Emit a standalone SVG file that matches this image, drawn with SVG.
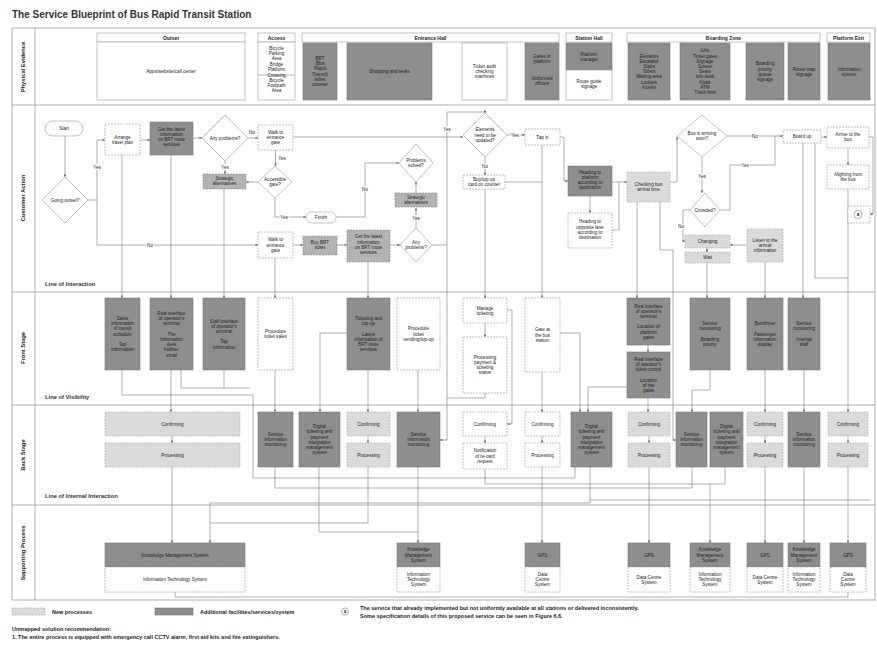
<svg xmlns="http://www.w3.org/2000/svg" width="877" height="645" viewBox="0 0 877 645">
<defs>
<marker id="ah" viewBox="0 0 6 6" refX="5.5" refY="3" markerWidth="4" markerHeight="4" orient="auto"><path d="M0,0 L6,3 L0,6 z" fill="#777"/></marker>
<style>
text{font-family:"Liberation Sans",Arial,sans-serif;fill:#222}
.t{font-size:4.6px;text-anchor:middle}
.h{font-size:5px;text-anchor:middle;font-weight:bold}
.lane{font-size:5.8px;text-anchor:middle;font-weight:bold}
.line-lbl{font-size:5.8px;font-weight:bold;fill:#333}
.lb{font-size:4.6px;text-anchor:middle;paint-order:stroke;stroke:#fff;stroke-width:2px}
.dk{fill:#8e8e8e;stroke:#777;stroke-width:0.6}
.md{fill:#b3b3b3;stroke:#888;stroke-width:0.6;stroke-dasharray:2 1}
.lt{fill:#dadada;stroke:#aaa;stroke-width:0.6;stroke-dasharray:2 1}
.wh{fill:#fff;stroke:#999;stroke-width:0.6;stroke-dasharray:2 1}
.ws{fill:#fff;stroke:#999;stroke-width:0.6}
.grid{stroke:#999;stroke-width:0.8;fill:none}
.c{stroke:#8a8a8a;stroke-width:0.7;fill:none}
.a{stroke:#8a8a8a;stroke-width:0.7;fill:none;marker-end:url(#ah)}
</style>
</defs>
<rect width="877" height="645" fill="#fff"/>
<text x="12" y="18" style="font-size:10px;font-weight:bold;fill:#333">The Service Blueprint of Bus Rapid Transit Station</text>

<g id="lanes">
<rect class="grid" x="12" y="28" width="863" height="572"/>
<line class="grid" x1="35" y1="28" x2="35" y2="600"/>
<line class="grid" x1="12" y1="105" x2="875" y2="105"/>
<line class="grid" x1="12" y1="292" x2="875" y2="292"/>
<line class="grid" x1="12" y1="405" x2="875" y2="405"/>
<line class="grid" x1="12" y1="505" x2="875" y2="505"/>
<text class="lane" transform="translate(25,67) rotate(-90)">Physical Evidence</text>
<text class="lane" transform="translate(25,198) rotate(-90)">Customer Action</text>
<text class="lane" transform="translate(25,348) rotate(-90)">Front Stage</text>
<text class="lane" transform="translate(25,455) rotate(-90)">Back Stage</text>
<text class="lane" transform="translate(25,553) rotate(-90)">Supporting Process</text>
<text class="line-lbl" x="45" y="286">Line of Interaction</text>
<text class="line-lbl" x="45" y="399">Line of Visibility</text>
<text class="line-lbl" x="45" y="498">Line of Internal Interaction</text>
</g>

<!-- Physical evidence -->
<g id="pe-outset">
<rect class="ws" x="97" y="33" width="148" height="9"/><text class="h" x="171" y="39.5">Outset</text>
<rect class="ws" x="97" y="42" width="148" height="58"/><text class="t" x="171" y="72.6">Apps/website/call center</text>
</g>
<g id="pe-access">
<rect class="ws" x="258" y="33" width="37" height="9"/><text class="h" x="276.5" y="39.5">Access</text>
<rect class="ws" x="258" y="42" width="37" height="58"/><line class="c" x1="258" y1="75" x2="295" y2="75"/>
<text class="t" x="276.5" y="50"><tspan x="276.5">Bicycle</tspan><tspan x="276.5" dy="5.2">Parking</tspan><tspan x="276.5" dy="5.2">Area</tspan><tspan x="276.5" dy="5.2">Bridge</tspan><tspan x="276.5" dy="5.2">Platform</tspan><tspan x="276.5" dy="6">Crossing</tspan><tspan x="276.5" dy="5.2">Bicycle</tspan><tspan x="276.5" dy="5.2">Footpath</tspan><tspan x="276.5" dy="5.2">Area</tspan></text>
</g>
<g id="pe-entrance">
<rect class="ws" x="302" y="33" width="257" height="9"/><text class="h" x="430.5" y="39.5">Entrance Hall</text>
<rect class="dk" x="303" y="43" width="34" height="57"/>
<text class="t" x="320" y="60"><tspan x="320">BRT</tspan><tspan x="320" dy="5.2">(Bus</tspan><tspan x="320" dy="5.2">Rapid</tspan><tspan x="320" dy="5.2">Transit)</tspan><tspan x="320" dy="5.2">ticket</tspan><tspan x="320" dy="5.2">counter</tspan></text>
<rect class="dk" x="347" y="43" width="85" height="57"/><text class="t" x="389.5" y="73">Shopping and seats</text>
<rect class="ws" x="462" y="43" width="45" height="57"/>
<text class="t" x="484.5" y="67.9"><tspan x="484.5">Ticket audit</tspan><tspan x="484.5" dy="5.2">checking</tspan><tspan x="484.5" dy="5.2">machines</tspan></text>
<rect class="dk" x="525" y="43" width="34" height="57"/>
<text class="t" x="542" y="58"><tspan x="542">Gates to</tspan><tspan x="542" dy="5.2">platform</tspan><tspan x="542" dy="17">Uniformed</tspan><tspan x="542" dy="5.2">officers</tspan></text>
</g>
<g id="pe-station">
<rect class="ws" x="566" y="33" width="46" height="9"/><text class="h" x="589" y="39.5">Station Hall</text>
<rect class="dk" x="566" y="43" width="46" height="27"/>
<text class="t" x="589" y="55.5"><tspan x="589">Platform</tspan><tspan x="589" dy="5.2">manager</tspan></text>
<rect class="ws" x="566" y="70" width="46" height="30"/>
<text class="t" x="589" y="83"><tspan x="589">Route guide</tspan><tspan x="589" dy="5.2">signage</tspan></text>
</g>
<g id="pe-boarding">
<rect class="ws" x="627" y="33" width="193" height="9"/><text class="h" x="723.5" y="39.5">Boarding Zone</text>
<rect class="dk" x="628" y="43" width="42" height="57"/>
<text class="t" x="649" y="57.5"><tspan x="649">Elevators</tspan><tspan x="649" dy="5.2">Escalator</tspan><tspan x="649" dy="5.2">Stairs</tspan><tspan x="649" dy="5.2">Toilets</tspan><tspan x="649" dy="5.2">Waiting area</tspan><tspan x="649" dy="5.2">Lockers</tspan><tspan x="649" dy="5.2">Kiosks</tspan></text>
<rect class="dk" x="680" y="43" width="50" height="57"/>
<text class="t" x="705" y="52.3"><tspan x="705">Lifts</tspan><tspan x="705" dy="5.2">Ticket gates</tspan><tspan x="705" dy="5.2">Signage</tspan><tspan x="705" dy="5.2">Screen</tspan><tspan x="705" dy="5.2">Seats</tspan><tspan x="705" dy="5.2">Info desk</tspan><tspan x="705" dy="5.2">Kiosk</tspan><tspan x="705" dy="5.2">ATM</tspan><tspan x="705" dy="5.2">Trash bins</tspan></text>
<rect class="dk" x="746" y="43" width="38" height="57"/>
<text class="t" x="765" y="65.3"><tspan x="765">Boarding</tspan><tspan x="765" dy="5.2">priority</tspan><tspan x="765" dy="5.2">queue</tspan><tspan x="765" dy="5.2">signage</tspan></text>
<rect class="dk" x="788" y="43" width="32" height="57"/>
<text class="t" x="804" y="70.5"><tspan x="804">Route map</tspan><tspan x="804" dy="5.2">signage</tspan></text>
</g>
<g id="pe-exit">
<rect class="ws" x="827" y="33" width="43" height="9"/><text class="h" x="848.5" y="39.5">Platform Exit</text>
<rect class="dk" x="828" y="43" width="42" height="57"/>
<text class="t" x="849" y="70.5"><tspan x="849">Information</tspan><tspan x="849" dy="5.2">system</tspan></text>
</g>

<!-- Connectors -->
<g id="connectors">
<path class="a" d="M65,136 V177"/>
<path class="a" d="M88,200 H97 V140 H105"/>
<path class="a" d="M97,200 V245 H258"/>
<path class="a" d="M140,140 H150"/>
<path class="a" d="M193,138 H202"/>
<path class="a" d="M248,138 H258"/>
<path class="a" d="M225,161 V174"/>
<path class="a" d="M275.5,150 V166"/>
<path class="a" d="M258,182 H246"/>
<path class="a" d="M275,198 V217 H306"/>
<path class="a" d="M336,217 H365 V163 H399"/>
<path class="a" d="M416,193 V182"/>
<path class="a" d="M416,228 V208"/>
<path class="a" d="M293,245 H303"/>
<path class="a" d="M337,245 H347"/>
<path class="a" d="M390,245 H400"/>
<path class="a" d="M432,245 H447 V112 H485 V113"/>
<path class="a" d="M293,137 H463"/>
<path class="a" d="M507,135 H525"/>
<path class="a" d="M485,157 V175"/>
<path class="c" d="M505,182 H542"/>
<path class="a" d="M542,145 V298"/>
<path class="a" d="M560,137 H564 V181 H568"/>
<path class="a" d="M590,196 V213"/>
<path class="a" d="M612,182 H627"/>
<path class="c" d="M612,230 H619 V182"/>
<path class="a" d="M670,182 H677 V137"/>
<path class="a" d="M702,157 V193"/>
<path class="a" d="M727,136 H783"/>
<path class="c" d="M720,210 H730 V165 H775 V136"/>
<path class="a" d="M690,210 H683 V241 H685"/>
<path class="a" d="M707,248 V252"/>
<path class="a" d="M747,245 H730"/>
<path class="a" d="M821,137 H827"/>
<path class="a" d="M848,148 V165"/>
<path class="c" d="M815,143 V278 H848"/>
<path class="a" d="M848,189 V412"/>
<path class="a" d="M869,137 H873 V214 H870"/>
<!-- customer to front -->
<path class="a" d="M122,155 V298"/>
<path class="a" d="M171,155 V298"/>
<path class="a" d="M224,189 V298"/>
<path class="a" d="M275,258 V298"/>
<path class="a" d="M368,262 V298"/>
<path class="a" d="M485,189 V298"/>
<path class="a" d="M485,323 V337"/>
<path class="a" d="M507,310 H512 V424 H507"/>
<path class="a" d="M485,393 V398 H447 V440 H440"/>
<path class="c" d="M447,245 V398"/>
<path class="a" d="M637,202 V298"/>
<path class="a" d="M660,202 V250 H673 V440 H676"/>
<path class="a" d="M627,387 H588 V412"/>
<path class="a" d="M707,263 V298"/>
<path class="a" d="M765,262 V298"/>
<path class="a" d="M803,143 V298"/>
<!-- front to back -->
<path class="c" d="M122,370 V395 H253 V478 H575 V467"/>
<path class="a" d="M171,370 V412"/>
<path class="c" d="M181,370 V388 H250"/>
<path class="c" d="M224,370 V388"/>
<path class="a" d="M275,370 V412"/>
<path class="a" d="M347,333 H320 V412"/>
<path class="a" d="M368,370 V412"/>
<path class="a" d="M418,370 V412"/>
<path class="a" d="M542,372 V412"/>
<path class="a" d="M560,333 H580 V412"/>
<path class="a" d="M648,345 V352"/>
<path class="a" d="M648,398 V412"/>
<path class="a" d="M710,370 V390 H692 V412"/>
<path class="a" d="M765,370 V412"/>
<path class="a" d="M804,370 V412"/>
<!-- back internal -->
<path class="a" d="M172,436 V443"/>
<path class="a" d="M368,436 V443"/>
<path class="a" d="M485,436 V443"/>
<path class="a" d="M542,436 V443"/>
<path class="a" d="M649,436 V443"/>
<path class="a" d="M765,436 V443"/>
<path class="a" d="M848,436 V443"/>
<!-- back to support -->
<path class="a" d="M172,467 V543"/>
<path class="a" d="M210,503 V543"/>
<path class="c" d="M210,503 H590 V467"/>
<path class="c" d="M368,467 V523 H210"/>
<path class="c" d="M319,467 V532 H418"/>
<path class="a" d="M418,467 V543"/>
<path class="c" d="M275,467 V488 H692 V467"/>
<path class="c" d="M485,469 V484 H725 V467"/>
<path class="a" d="M542,467 V543"/>
<path class="a" d="M649,467 V543"/>
<path class="a" d="M710,484 V543"/>
<path class="a" d="M765,467 V543"/>
<path class="a" d="M804,467 V543"/>
<path class="a" d="M848,467 V543"/>
<path class="c" d="M590,500 H870"/>
<path class="c" d="M175,592 V597 H848 V592"/>
<!-- labels -->
<text class="lb" x="97" y="169">Yes</text>
<text class="lb" x="150" y="247">No</text>
<text class="lb" x="252" y="134">No</text>
<text class="lb" x="225" y="169">Yes</text>
<text class="lb" x="282" y="160">Yes</text>
<text class="lb" x="284" y="219">Yes</text>
<text class="lb" x="365" y="191">No</text>
<text class="lb" x="416" y="220">Yes</text>
<text class="lb" x="447" y="131">Yes</text>
<text class="lb" x="515" y="137">Yes</text>
<text class="lb" x="485" y="168">No</text>
<text class="lb" x="702" y="178">Yes</text>
<text class="lb" x="755" y="138">No</text>
<text class="lb" x="745" y="167">Yes</text>
<text class="lb" x="681" y="228">No</text>
</g>

<!-- Customer action nodes -->
<g id="n-start"><rect class="ws" x="45" y="121" width="38" height="15" rx="7.5"/><text class="t" x="64" y="130.3">Start</text></g>
<g id="n-outset"><polygon class="ws" points="65,177 88,200 65,223 42,200"/><text class="t" x="65" y="201.6">Going outset?</text></g>
<g id="n-plan"><rect class="wh" x="105" y="124" width="35" height="31"/><text class="t" x="122.5" y="138.5"><tspan x="122.5">Arrange</tspan><tspan x="122.5" dy="5.2">travel plan</tspan></text></g>
<g id="n-info1"><rect class="dk" x="150" y="122" width="43" height="33"/><text class="t" x="171.5" y="130.7"><tspan x="171.5">Get the latest</tspan><tspan x="171.5" dy="5.2">information</tspan><tspan x="171.5" dy="5.2">on BRT route</tspan><tspan x="171.5" dy="5.2">services</tspan></text></g>
<g id="n-prob1"><polygon class="ws" points="225,115 248,138 225,161 202,138"/><text class="t" x="225" y="139.6">Any problems?</text></g>
<g id="n-walk1"><rect class="wh" x="258" y="125" width="35" height="25"/><text class="t" x="275.5" y="133.9"><tspan x="275.5">Walk to</tspan><tspan x="275.5" dy="5.2">entrance</tspan><tspan x="275.5" dy="5.2">gate</tspan></text></g>
<g id="n-alt1"><rect class="md" x="203" y="174" width="43" height="15"/><text class="t" x="224.5" y="180.2"><tspan x="224.5">Strategic</tspan><tspan x="224.5" dy="5.2">alternatives</tspan></text></g>
<g id="n-access"><polygon class="ws" points="275,166 292,182 275,198 258,182"/><text class="t" x="275" y="181"><tspan x="275">Accessible</tspan><tspan x="275" dy="5.2">gate?</tspan></text></g>
<g id="n-finish"><rect class="ws" x="306" y="212" width="30" height="11" rx="5.5"/><text class="t" x="321" y="219.2">Finish</text></g>
<g id="n-walk2"><rect class="wh" x="258" y="232" width="35" height="26"/><text class="t" x="275.5" y="241.4"><tspan x="275.5">Walk to</tspan><tspan x="275.5" dy="5.2">entrance</tspan><tspan x="275.5" dy="5.2">gate</tspan></text></g>
<g id="n-ticket"><rect class="md" x="303" y="236" width="34" height="19"/><text class="t" x="320" y="244"><tspan x="320">Buy BRT</tspan><tspan x="320" dy="5.2">ticket</tspan></text></g>
<g id="n-info2"><rect class="md" x="347" y="230" width="43" height="32"/><text class="t" x="368.5" y="238.3"><tspan x="368.5">Get the latest</tspan><tspan x="368.5" dy="5.2">information</tspan><tspan x="368.5" dy="5.2">on BRT route</tspan><tspan x="368.5" dy="5.2">services</tspan></text></g>
<g id="n-prob2"><polygon class="ws" points="416,228 432,245 416,262 400,245"/><text class="t" x="416" y="244"><tspan x="416">Any</tspan><tspan x="416" dy="5.2">problems?</tspan></text></g>
<g id="n-alt2"><rect class="md" x="395" y="193" width="42" height="14"/><text class="t" x="416" y="198.7"><tspan x="416">Strategic</tspan><tspan x="416" dy="5.2">alternatives</tspan></text></g>
<g id="n-solved"><polygon class="ws" points="416,144 433,163 416,182 399,163"/><text class="t" x="416" y="162"><tspan x="416">Problems</tspan><tspan x="416" dy="5.2">solved?</tspan></text></g>
<g id="n-update"><polygon class="ws" points="485,113 507,135 485,157 463,135"/><text class="t" x="485" y="131.4"><tspan x="485">Elements</tspan><tspan x="485" dy="5.2">need to be</tspan><tspan x="485" dy="5.2">updated?</tspan></text></g>
<g id="n-tapin"><rect class="wh" x="525" y="129" width="35" height="16"/><text class="t" x="542.5" y="138.6">Tap in</text></g>
<g id="n-topup"><rect class="wh" x="463" y="175" width="42" height="14"/><text class="t" x="484" y="180.7"><tspan x="484">Buy/top up</tspan><tspan x="484" dy="5.2">card on counter</tspan></text></g>
<g id="n-platform"><rect class="dk" x="568" y="166" width="44" height="30"/><text class="t" x="590" y="173.8"><tspan x="590">Heading to</tspan><tspan x="590" dy="5.2">platform</tspan><tspan x="590" dy="5.2">according to</tspan><tspan x="590" dy="5.2">destination</tspan></text></g>
<g id="n-opposite"><rect class="wh" x="568" y="213" width="44" height="35"/><text class="t" x="590" y="223.3"><tspan x="590">Heading to</tspan><tspan x="590" dy="5.2">opposite lane</tspan><tspan x="590" dy="5.2">according to</tspan><tspan x="590" dy="5.2">destination</tspan></text></g>
<g id="n-check"><rect class="lt" x="627" y="172" width="43" height="30"/><text class="t" x="648.5" y="186"><tspan x="648.5">Checking bus</tspan><tspan x="648.5" dy="5.2">arrival time</tspan></text></g>
<g id="n-arriving"><polygon class="ws" points="702,115 727,136 702,157 677,136"/><text class="t" x="702" y="135"><tspan x="702">Bus is arriving</tspan><tspan x="702" dy="5.2">soon?</tspan></text></g>
<g id="n-crowded"><polygon class="ws" points="705,193 720,210 705,227 690,210"/><text class="t" x="705" y="211.6">Crowded?</text></g>
<g id="n-changing"><rect class="lt" x="685" y="235" width="45" height="13"/><text class="t" x="707.5" y="243.1">Changing</text></g>
<g id="n-wait"><rect class="lt" x="685" y="252" width="45" height="11"/><text class="t" x="707.5" y="259.1">Wait</text></g>
<g id="n-listen"><rect class="lt" x="747" y="229" width="36" height="33"/><text class="t" x="765" y="241.9"><tspan x="765">Listen to the</tspan><tspan x="765" dy="5.2">arrival</tspan><tspan x="765" dy="5.2">information</tspan></text></g>
<g id="n-board"><rect class="wh" x="783" y="130" width="38" height="13"/><text class="t" x="802" y="138.1">Board up</text></g>
<g id="n-tobus"><rect class="wh" x="827" y="127" width="42" height="21"/><text class="t" x="848" y="136"><tspan x="848">Arrive to the</tspan><tspan x="848" dy="5.2">bus</tspan></text></g>
<g id="n-alight"><rect class="wh" x="827" y="165" width="42" height="24"/><text class="t" x="848" y="175.5"><tspan x="848">Alighting from</tspan><tspan x="848" dy="5.2">the bus</tspan></text></g>
<g id="n-a"><rect class="wh" x="848" y="206" width="22" height="17"/><circle cx="858" cy="214.5" r="4" fill="#fff" stroke="#777" stroke-width="0.6"/><text class="t" x="858" y="216.2" style="font-weight:bold">a</text></g>

<!-- Front stage -->
<g id="fs-1"><rect class="dk" x="105" y="298" width="35" height="72"/><text class="t" x="122.5" y="320"><tspan x="122.5">Sales</tspan><tspan x="122.5" dy="5.2">information</tspan><tspan x="122.5" dy="5.2">of transit</tspan><tspan x="122.5" dy="5.2">schedule</tspan><tspan x="122.5" dy="10.4">Tap</tspan><tspan x="122.5" dy="5.2">information</tspan></text></g>
<g id="fs-2"><rect class="dk" x="150" y="298" width="43" height="72"/><text class="t" x="171.5" y="315"><tspan x="171.5">Real interface</tspan><tspan x="171.5" dy="5.2">of operator's</tspan><tspan x="171.5" dy="5.2">terminal</tspan><tspan x="171.5" dy="10.4">The</tspan><tspan x="171.5" dy="5.2">information</tspan><tspan x="171.5" dy="5.2">desk</tspan><tspan x="171.5" dy="5.2">hotline/</tspan><tspan x="171.5" dy="5.2">email</tspan></text></g>
<g id="fs-3"><rect class="dk" x="203" y="298" width="42" height="72"/><text class="t" x="224" y="322.6"><tspan x="224">Staff interface</tspan><tspan x="224" dy="5.2">of operator's</tspan><tspan x="224" dy="5.2">terminal</tspan><tspan x="224" dy="10.4">Tap</tspan><tspan x="224" dy="5.2">information</tspan></text></g>
<g id="fs-4"><rect class="wh" x="258" y="298" width="35" height="72"/><text class="t" x="275.5" y="333"><tspan x="275.5">Procedure</tspan><tspan x="275.5" dy="5.2">ticket sales</tspan></text></g>
<g id="fs-5"><rect class="dk" x="347" y="298" width="43" height="72"/><text class="t" x="368.5" y="320"><tspan x="368.5">Ticketing and</tspan><tspan x="368.5" dy="5.2">top-up</tspan><tspan x="368.5" dy="10.4">Latest</tspan><tspan x="368.5" dy="5.2">information of</tspan><tspan x="368.5" dy="5.2">BRT route</tspan><tspan x="368.5" dy="5.2">services</tspan></text></g>
<g id="fs-6"><rect class="wh" x="397" y="298" width="43" height="72"/><text class="t" x="418.5" y="330.4"><tspan x="418.5">Procedure</tspan><tspan x="418.5" dy="5.2">ticket</tspan><tspan x="418.5" dy="5.2">vending/top-up</tspan></text></g>
<g id="fs-7"><rect class="wh" x="463" y="298" width="44" height="25"/><text class="t" x="485" y="309.5"><tspan x="485">Manage</tspan><tspan x="485" dy="5.2">ticketing</tspan></text></g>
<g id="fs-8"><rect class="wh" x="463" y="337" width="44" height="56"/><text class="t" x="485" y="358.8"><tspan x="485">Processing</tspan><tspan x="485" dy="5.2">payment &amp;</tspan><tspan x="485" dy="5.2">ticketing</tspan><tspan x="485" dy="5.2">status</tspan></text></g>
<g id="fs-9"><rect class="wh" x="525" y="298" width="35" height="74"/><text class="t" x="542.5" y="331.4"><tspan x="542.5">Gate at</tspan><tspan x="542.5" dy="5.2">the bus</tspan><tspan x="542.5" dy="5.2">station</tspan></text></g>
<g id="fs-10"><rect class="dk" x="627" y="298" width="43" height="47"/><text class="t" x="648.5" y="307.5"><tspan x="648.5">Real interface</tspan><tspan x="648.5" dy="5.2">of operator's</tspan><tspan x="648.5" dy="5.2">terminal</tspan><tspan x="648.5" dy="10.4">Location of</tspan><tspan x="648.5" dy="5.2">platform</tspan><tspan x="648.5" dy="5.2">gates</tspan></text></g>
<g id="fs-11"><rect class="dk" x="627" y="352" width="43" height="46"/><text class="t" x="648.5" y="361"><tspan x="648.5">Real interface</tspan><tspan x="648.5" dy="5.2">of operator's</tspan><tspan x="648.5" dy="5.2">ticket control</tspan><tspan x="648.5" dy="10.4">Location</tspan><tspan x="648.5" dy="5.2">of the</tspan><tspan x="648.5" dy="5.2">gates</tspan></text></g>
<g id="fs-12"><rect class="dk" x="690" y="298" width="40" height="72"/><text class="t" x="710" y="325.2"><tspan x="710">Service</tspan><tspan x="710" dy="5.2">monitoring</tspan><tspan x="710" dy="10.4">Boarding</tspan><tspan x="710" dy="5.2">priority</tspan></text></g>
<g id="fs-13"><rect class="dk" x="747" y="298" width="36" height="72"/><text class="t" x="765" y="325.2"><tspan x="765">Bus/driver</tspan><tspan x="765" dy="10.4">Passenger</tspan><tspan x="765" dy="5.2">information</tspan><tspan x="765" dy="5.2">display</tspan></text></g>
<g id="fs-14"><rect class="dk" x="788" y="298" width="32" height="72"/><text class="t" x="804" y="325.2"><tspan x="804">Service</tspan><tspan x="804" dy="5.2">monitoring</tspan><tspan x="804" dy="10.4">Internal</tspan><tspan x="804" dy="5.2">staff</tspan></text></g>

<!-- Back stage -->
<g id="bs-1"><rect class="lt" x="105" y="412" width="135" height="24"/><text class="t" x="172.5" y="425.6">Confirming</text><rect class="lt" x="105" y="443" width="135" height="24"/><text class="t" x="172.5" y="456.6">Processing</text></g>
<g id="bs-2"><rect class="dk" x="258" y="412" width="35" height="55"/><text class="t" x="275.5" y="436"><tspan x="275.5">Service</tspan><tspan x="275.5" dy="5.2">information</tspan><tspan x="275.5" dy="5.2">monitoring</tspan></text></g>
<g id="bs-3"><rect class="dk" x="299" y="412" width="41" height="55"/><text class="t" x="319.5" y="428.1"><tspan x="319.5">Digital</tspan><tspan x="319.5" dy="5.2">ticketing and</tspan><tspan x="319.5" dy="5.2">payment</tspan><tspan x="319.5" dy="5.2">integration</tspan><tspan x="319.5" dy="5.2">management</tspan><tspan x="319.5" dy="5.2">system</tspan></text></g>
<g id="bs-4"><rect class="lt" x="347" y="412" width="43" height="24"/><text class="t" x="368.5" y="425.6">Confirming</text><rect class="lt" x="347" y="443" width="43" height="24"/><text class="t" x="368.5" y="456.6">Processing</text></g>
<g id="bs-5"><rect class="dk" x="397" y="412" width="43" height="55"/><text class="t" x="418.5" y="436"><tspan x="418.5">Service</tspan><tspan x="418.5" dy="5.2">information</tspan><tspan x="418.5" dy="5.2">monitoring</tspan></text></g>
<g id="bs-6"><rect class="wh" x="463" y="412" width="44" height="24"/><text class="t" x="485" y="425.6">Confirming</text><rect class="wh" x="463" y="443" width="44" height="26"/><text class="t" x="485" y="452.4"><tspan x="485">Notification</tspan><tspan x="485" dy="5.2">of re-card</tspan><tspan x="485" dy="5.2">request</tspan></text></g>
<g id="bs-7"><rect class="wh" x="525" y="412" width="35" height="24"/><text class="t" x="542.5" y="425.6">Confirming</text><rect class="wh" x="525" y="443" width="35" height="24"/><text class="t" x="542.5" y="456.6">Processing</text></g>
<g id="bs-8"><rect class="dk" x="571" y="412" width="41" height="55"/><text class="t" x="591.5" y="428.1"><tspan x="591.5">Digital</tspan><tspan x="591.5" dy="5.2">ticketing and</tspan><tspan x="591.5" dy="5.2">payment</tspan><tspan x="591.5" dy="5.2">integration</tspan><tspan x="591.5" dy="5.2">management</tspan><tspan x="591.5" dy="5.2">system</tspan></text></g>
<g id="bs-9"><rect class="lt" x="628" y="412" width="42" height="24"/><text class="t" x="649" y="425.6">Confirming</text><rect class="lt" x="628" y="443" width="42" height="24"/><text class="t" x="649" y="456.6">Processing</text></g>
<g id="bs-10"><rect class="dk" x="676" y="412" width="31" height="55"/><text class="t" x="691.5" y="436"><tspan x="691.5">Service</tspan><tspan x="691.5" dy="5.2">information</tspan><tspan x="691.5" dy="5.2">monitoring</tspan></text></g>
<g id="bs-11"><rect class="dk" x="710" y="412" width="33" height="55"/><text class="t" x="726.5" y="428.1"><tspan x="726.5">Digital</tspan><tspan x="726.5" dy="5.2">ticketing and</tspan><tspan x="726.5" dy="5.2">payment</tspan><tspan x="726.5" dy="5.2">integration</tspan><tspan x="726.5" dy="5.2">management</tspan><tspan x="726.5" dy="5.2">system</tspan></text></g>
<g id="bs-12"><rect class="lt" x="747" y="412" width="36" height="24"/><text class="t" x="765" y="425.6">Confirming</text><rect class="lt" x="747" y="443" width="36" height="24"/><text class="t" x="765" y="456.6">Processing</text></g>
<g id="bs-13"><rect class="dk" x="788" y="412" width="32" height="55"/><text class="t" x="804" y="436"><tspan x="804">Service</tspan><tspan x="804" dy="5.2">information</tspan><tspan x="804" dy="5.2">monitoring</tspan></text></g>
<g id="bs-14"><rect class="lt" x="828" y="412" width="40" height="24"/><text class="t" x="848" y="425.6">Confirming</text><rect class="lt" x="828" y="443" width="40" height="24"/><text class="t" x="848" y="456.6">Processing</text></g>

<!-- Supporting -->
<g id="sp-1"><rect class="dk" x="105" y="543" width="140" height="24"/><text class="t" x="175" y="556.6">Knowledge Management System</text><rect class="wh" x="105" y="567" width="140" height="25"/><text class="t" x="175" y="581">Information Technology System</text></g>
<g id="sp-2"><rect class="dk" x="397" y="543" width="43" height="24"/><text class="t" x="418.5" y="551.4"><tspan x="418.5">Knowledge</tspan><tspan x="418.5" dy="5.2">Management</tspan><tspan x="418.5" dy="5.2">System</tspan></text><rect class="wh" x="397" y="567" width="43" height="25"/><text class="t" x="418.5" y="575.9"><tspan x="418.5">Information</tspan><tspan x="418.5" dy="5.2">Technology</tspan><tspan x="418.5" dy="5.2">System</tspan></text></g>
<g id="sp-3"><rect class="dk" x="525" y="543" width="35" height="24"/><text class="t" x="542.5" y="556.6">GPS</text><rect class="wh" x="525" y="567" width="35" height="25"/><text class="t" x="542.5" y="575.9"><tspan x="542.5">Data</tspan><tspan x="542.5" dy="5.2">Centre</tspan><tspan x="542.5" dy="5.2">System</tspan></text></g>
<g id="sp-4"><rect class="dk" x="628" y="543" width="42" height="24"/><text class="t" x="649" y="556.6">GPS</text><rect class="wh" x="628" y="567" width="42" height="25"/><text class="t" x="649" y="578.5"><tspan x="649">Data Centre</tspan><tspan x="649" dy="5.2">System</tspan></text></g>
<g id="sp-5"><rect class="dk" x="690" y="543" width="40" height="24"/><text class="t" x="710" y="551.4"><tspan x="710">Knowledge</tspan><tspan x="710" dy="5.2">Management</tspan><tspan x="710" dy="5.2">System</tspan></text><rect class="wh" x="690" y="567" width="40" height="25"/><text class="t" x="710" y="575.9"><tspan x="710">Information</tspan><tspan x="710" dy="5.2">Technology</tspan><tspan x="710" dy="5.2">System</tspan></text></g>
<g id="sp-6"><rect class="dk" x="747" y="543" width="36" height="24"/><text class="t" x="765" y="556.6">GPS</text><rect class="wh" x="747" y="567" width="36" height="25"/><text class="t" x="765" y="578.5"><tspan x="765">Data Centre</tspan><tspan x="765" dy="5.2">System</tspan></text></g>
<g id="sp-7"><rect class="dk" x="788" y="543" width="32" height="24"/><text class="t" x="804" y="551.4"><tspan x="804">Knowledge</tspan><tspan x="804" dy="5.2">Management</tspan><tspan x="804" dy="5.2">System</tspan></text><rect class="wh" x="788" y="567" width="32" height="25"/><text class="t" x="804" y="575.9"><tspan x="804">Information</tspan><tspan x="804" dy="5.2">Technology</tspan><tspan x="804" dy="5.2">System</tspan></text></g>
<g id="sp-8"><rect class="dk" x="830" y="543" width="36" height="24"/><text class="t" x="848" y="556.6">GPS</text><rect class="wh" x="830" y="567" width="36" height="25"/><text class="t" x="848" y="575.9"><tspan x="848">Data</tspan><tspan x="848" dy="5.2">Centre</tspan><tspan x="848" dy="5.2">System</tspan></text></g>

<!-- Legend -->
<g id="legend">
<rect class="lt" x="12" y="608" width="33" height="7"/>
<text x="52" y="614" style="font-size:5.5px;font-weight:bold">New processes</text>
<rect class="dk" x="155" y="608" width="38" height="7"/>
<text x="200" y="614" style="font-size:5.5px;font-weight:bold">Additional facilities/services/system</text>
<circle cx="345" cy="611.5" r="3.5" fill="#fff" stroke="#777" stroke-width="0.6"/>
<text class="t" x="345" y="613.2" style="font-weight:bold">a</text>
<text x="360" y="610" style="font-size:5.5px;font-weight:bold">The service that already implemented but not uniformly available at all stations or delivered inconsistently.</text>
<text x="360" y="618" style="font-size:5.5px;font-weight:bold">Some specification details of this proposed service can be seen in Figure 6.6.</text>
<text x="12" y="631" style="font-size:5.5px;font-weight:bold">Unmapped solution recommendation:</text>
<text x="12" y="639" style="font-size:5.5px;font-weight:bold">1. The entire process is equipped with emergency call CCTV alarm, first aid kits and fire extinguishers.</text>
</g>
</svg>
